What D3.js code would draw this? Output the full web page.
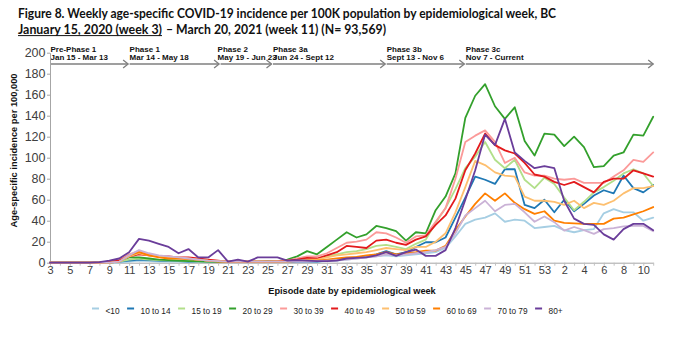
<!DOCTYPE html>
<html><head><meta charset="utf-8">
<script src="https://cdn.jsdelivr.net/npm/d3@7"></script>
<style>
body{margin:0;background:#fff}
svg{display:block}
text{font-family:"Liberation Sans",Arial,sans-serif}
</style>
</head><body>
<svg id="chart" width="699" height="358"></svg>
<script>
// ---------------- DATA ----------------
const weeks2020 = [3,4,5,6,7,8,9,10,11,12,13,14,15,16,17,18,19,20,21,22,23,24,25,26,27,28,29,30,31,32,33,34,35,36,37,38,39,40,41,42,43,44,45,46,47,48,49,50,51,52,53];
const weeks2021 = [1,2,3,4,5,6,7,8,9,10,11];
const xTickLabels2020 = [3,5,7,9,11,13,15,17,19,21,23,25,27,29,31,33,35,37,39,41,43,45,47,49,51,53];
const xTickLabels2021 = [2,4,6,8,10];
const yTicks = [0,20,40,60,80,100,120,140,160,180,200];

const seriesNames = ["<10","10 to 14","15 to 19","20 to 29","30 to 39","40 to 49","50 to 59","60 to 69","70 to 79","80+"];
const seriesColors = ["#a6cee3","#1f78b4","#b2df8a","#33a02c","#fb9a99","#e31a1c","#fdbf6f","#ff7f00","#cab2d6","#6a3d9a"];

const ageLt10 = [0,0,0,0,0,0,0,0,1,2, 1.5,1,1,1,0.5,0.5,0.5,0.5,0.5,0.5, 0.5,0.5,0.5,0.5,0.5,0.5,1,1,1.5,2, 3,4,5,6,7,6,7,8,9,10, 14,25,37,41,43,47,39,41,40,33, 34,
  35,31,29,31,32,47,51,48,48,40,43];
const age10to14 = [0,0,0,0,0,0,0,1,2,3, 2.5,2,1.5,1.5,1,1,1,0.5,0.5,0.5, 0.5,0.5,0.5,0.5,0.5,1,1,1,2,3, 4,5,6,8,11,8,10,15,19.5,19.5, 24,43,62,82,79,75,89,89,55,52, 60,
  48,60,49,56,64,69,66,83,71,67,74];
const age15to19 = [0,0,0,0,0,0,0,1,3,4, 3,2.5,2,2,1.5,1,1,1,1,1, 1,1,1,1,1,2,4,3,6,8, 10,11,13,16,17,15,13,18,22,38, 52,70,90,101,115,98,90,98,79,71, 81,
  75,62,50,58,67,72,78,85,89,85,73];
const age20to29 = [0,0,0,0,0,0.3,1,2,5,5, 4,3,2.5,2,1.5,1.5,1,1,1,1, 1,1,1.5,1.5,3,6,11,8,15,22, 29,24,27,35,33,30,21,29,28,50, 63,85,138,159,170,149,137,148,116,102, 123,
  122,111,120,110,91,92,102,105,122,121,139];
const age30to39 = [0,0,0,0,0,0,1,3,8,11, 8,6,5,4,4,3,2,1.5,1,1, 1,1,1,1.5,2,4,6,6,9,14, 19,20,22,29,28,24,19,25,26,39, 52,80,115,121,126,115,95,100,86,83, 83,
  80,79,80,76,76,76,82,88,98,96,105];
const age40to49 = [0,0,0,0,0,0,1,2,6,8, 7,6,6,5,5,4,3,2,1,1, 1,1,1,1,2,3,4.5,4,7,10, 16,15,14,21,22,19,17,22,25,36, 45,61,88,104,123,112,107,104,95,84, 82,
  77,74,77,72,67,77,80,80,88,85,82];
const age50to59 = [0,0,0,0,0,0,0,1,6,9, 7,6,5,5,4,3,2,1.5,1,1, 1,1,1,1,1,2,3,3,5,7, 8,9,10,12,14,13,12,15,15,20, 28,48,72,97,93,86,83,82,63,59, 59,
  58,55,59,52,57,55,59,66,71,71,73];
const age60to69 = [0,0,0,0,0,0,0,1,7,10, 7,5,4,4,3.5,3,2,1,1,1, 1,1,1,1,1,1.5,2,2,3,4, 5,5.5,7,8,10,8,9,10,11.5,11.5, 16,31,44,56,66,59,66,57,51,46.5, 49,
  40,38,37.5,37,37,37,42,43,46,49,53];
const age70to79 = [0,0,0,0,0,0,0,1,7,12, 9,7,6,5,4,3,2,1.5,1,1, 1,1,1,1,1,1,1,1.5,2,2.5, 3,4,5,6,8,7,8,9,10,12, 15,28,45,52,59,49,55,56,48,39, 44,
  38.6,30.6,34,31,27.5,32,33,34.5,35,35,30];
const age80plus = [0,0,0,0,0,0.5,2,4,10,22.7, 21,18,15,9,13,5,5,12,1,3, 1,5,5,5,2,2.5,2,1.5,1.5,2, 4,4.5,5,7,10,6.5,10,12.5,6.5,6.5, 12,33,60,88,122,112,137,105,97,90, 92,
  90,59,42,37,36,27,22,32,37,37,31];

const phaseNames = ["Pre-Phase 1","Phase 1","Phase 2","Phase 3a","Phase 3b","Phase 3c"];
const phaseDates = ["Jan 15 - Mar 13","Mar 14 - May 18","May 19 - Jun 23","Jun 24 - Sept 12","Sept 13 - Nov 6","Nov 7 - Current"];
// phase boundaries expressed in week-index units (0 = week 3 of 2020)
const phaseBounds = [0, 7.9, 17.1, 22.4, 33.9, 41.9, 61];

const titleLine1 = "Figure 8. Weekly age-specific COVID-19 incidence per 100K population by epidemiological week, BC";
const titleLine2a = "January 15, 2020 (week 3)";
const titleLine2b = "– March 20, 2021 (week 11) (N= 93,569)";
const yTitle = "Age-specific incidence per 100,000";
const xTitle = "Episode date by epidemiological week";

// ---------------- CHART ----------------
const series = [ageLt10, age10to14, age15to19, age20to29, age30to39, age40to49, age50to59, age60to69, age70to79, age80plus];
const keys = weeks2020.map(w => "2020-" + w).concat(weeks2021.map(w => "2021-" + w));
const labelKeys = new Set(xTickLabels2020.map(w => "2020-" + w).concat(xTickLabels2021.map(w => "2021-" + w)));

const svg = d3.select("#chart");
const x = d3.scalePoint().domain(keys).range([50, 653.2]);
const y = d3.scaleLinear().domain([0, 200]).range([262.7, 52.7]);
const xi = d3.scaleLinear().domain([0, keys.length - 1]).range([50, 653.2]);

// Title
svg.append("text").attr("x", 18).attr("y", 17.5)
  .style("font-family", "Lato, sans-serif").attr("font-weight", "bold").attr("font-size", 12.6)
  .attr("fill", "#111").attr("textLength", 538).attr("lengthAdjust", "spacingAndGlyphs").text(titleLine1);
svg.append("text").attr("x", 18).attr("y", 33.5)
  .style("font-family", "Lato, sans-serif").attr("font-weight", "bold").attr("font-size", 12.6)
  .attr("fill", "#111").attr("textLength", 144).attr("lengthAdjust", "spacingAndGlyphs").text(titleLine2a);
svg.append("line").attr("x1", 18).attr("x2", 162).attr("y1", 35.6).attr("y2", 35.6)
  .attr("stroke", "#111").attr("stroke-width", 1);
svg.append("text").attr("x", 166).attr("y", 33.5)
  .style("font-family", "Lato, sans-serif").attr("font-weight", "bold").attr("font-size", 12.6)
  .attr("fill", "#111").attr("textLength", 220).attr("lengthAdjust", "spacingAndGlyphs").text(titleLine2b);

// Phase arrows
const arrowY = 64;
const pg = svg.append("g");
phaseNames.forEach((name, k) => {
  const x0 = xi(phaseBounds[k]) + (k === 0 ? 0 : 1.5);
  const x1 = xi(phaseBounds[k + 1]);
  pg.append("line").attr("x1", x0).attr("x2", x1).attr("y1", arrowY).attr("y2", arrowY)
    .attr("stroke", "#7f7f7f").attr("stroke-width", 1.6);
  pg.append("path").attr("d", `M${x1 - 5},${arrowY - 4}L${x1},${arrowY}L${x1 - 5},${arrowY + 4}`)
    .attr("fill", "none").attr("stroke", "#7f7f7f").attr("stroke-width", 1.3);
  const tx = k === 2 ? x0 - 3 : x0 + (k === 0 ? 0.5 : 0);
  pg.append("text").attr("x", tx).attr("y", 51.8).attr("font-size", 8).attr("font-weight", "bold")
    .attr("fill", "#111").text(name);
  pg.append("text").attr("x", tx).attr("y", 60.3).attr("font-size", 8).attr("font-weight", "bold")
    .attr("fill", "#111").text(phaseDates[k]);
});

// Axes
const yAxis = svg.append("g").attr("transform", "translate(50,0)")
  .call(d3.axisLeft(y).tickValues(yTicks).tickSize(3).tickPadding(1.5).tickSizeOuter(0));
yAxis.select(".domain").attr("stroke", "#a6a6a6");
yAxis.selectAll(".tick line").attr("stroke", "#a6a6a6");
yAxis.selectAll(".tick text").attr("font-size", 12.5).attr("fill", "#404040")
  .style("font-family", "'Liberation Sans', Arial, sans-serif");

const xAxis = svg.append("g").attr("transform", "translate(0,262.7)")
  .call(d3.axisBottom(x).tickValues(keys).tickSize(3).tickPadding(0.5).tickSizeOuter(0)
    .tickFormat(k => labelKeys.has(k) ? k.split("-")[1] : ""));
xAxis.select(".domain").attr("stroke", "#a6a6a6");
xAxis.selectAll(".tick line").attr("stroke", "#c0c0c0");
xAxis.selectAll(".tick text").attr("font-size", 11).attr("fill", "#404040")
  .style("font-family", "'Liberation Sans', Arial, sans-serif");

// Axis titles
svg.append("text").attr("transform", "translate(17,150.5) rotate(-90)").attr("text-anchor", "middle")
  .attr("font-size", 9.3).attr("font-weight", "bold").attr("fill", "#111").text(yTitle);
svg.append("text").attr("x", 352).attr("y", 293.5).attr("text-anchor", "middle")
  .attr("font-size", 9.2).attr("font-weight", "bold").attr("fill", "#111").text(xTitle);

// Lines
const line = d3.line().x((d, i) => x(keys[i])).y(d => y(d)).curve(d3.curveLinear);
const lg = svg.append("g");
series.forEach((s, k) => {
  lg.append("path").datum(s).attr("d", line).attr("fill", "none")
    .attr("stroke", seriesColors[k]).attr("stroke-width", 1.8)
    .attr("stroke-linejoin", "round").attr("stroke-linecap", "round");
});

// Legend
const leg = svg.append("g");
let lx = 92;
seriesNames.forEach((name, k) => {
  leg.append("line").attr("x1", lx).attr("x2", lx + 7).attr("y1", 308.5).attr("y2", 308.5)
    .attr("stroke", seriesColors[k]).attr("stroke-width", 2);
  const t = leg.append("text").attr("x", lx + 13.5).attr("y", 314).attr("font-size", 8.3)
    .attr("fill", "#222").text(name);
  lx += 13.5 + t.node().getComputedTextLength() + 7.5;
});
</script>
</body></html>
